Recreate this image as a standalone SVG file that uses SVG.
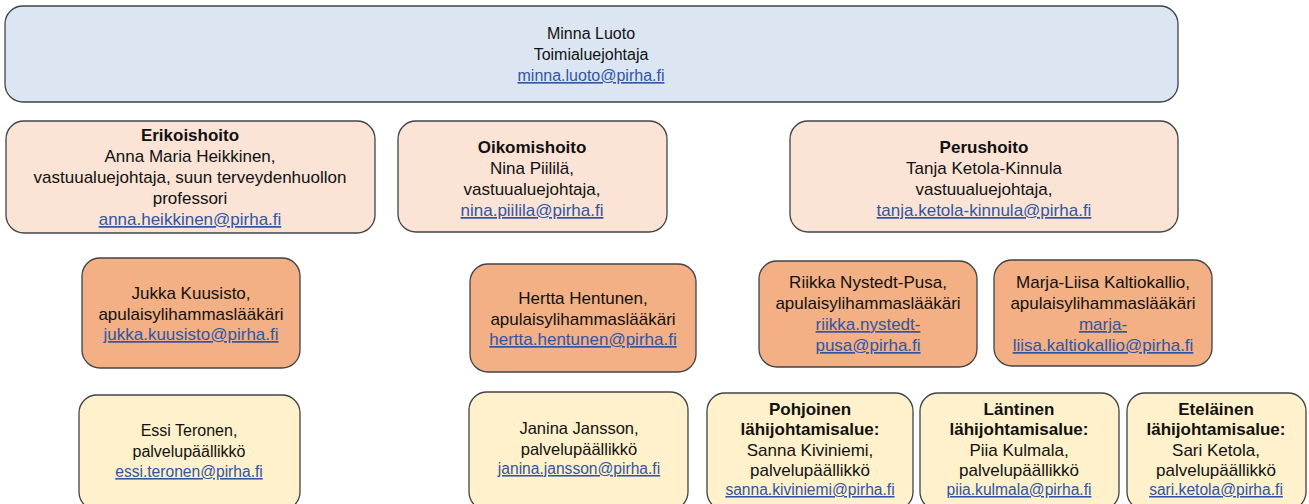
<svg xmlns="http://www.w3.org/2000/svg" width="1309" height="504" viewBox="0 0 1309 504">
<style>
.box{stroke:#3f4349;stroke-width:1.3}
.top{fill:#dce6f3}
.l2{fill:#fbe4d6}
.l3{fill:#f3b084}
.l4{fill:#fff1cb}
text{font-family:"Liberation Sans",Arial,sans-serif;fill:#111;text-anchor:middle}
.f16{font-size:16px}
.f17{font-size:17px}
.f165{font-size:16.5px}
.f15{font-size:15.6px}
.b{font-weight:bold}
.a{fill:#2f55a4;text-decoration:underline}
</style>
<rect width="1309" height="504" fill="#ffffff"/>
<g id="connectors"></g>
<g id="minna">
<rect class="box top" x="5" y="6" width="1173" height="96" rx="18"/>
<text class="f16" x="591" y="39">Minna Luoto</text>
<text class="f16" x="591" y="60">Toimialuejohtaja</text>
<text class="f16 a" x="591" y="81">minna.luoto@pirha.fi</text>
</g>
<g id="erikoishoito">
<rect class="box l2" x="6" y="121" width="369" height="112" rx="18"/>
<text class="f17 b" x="190" y="141">Erikoishoito</text>
<text class="f17" x="190" y="162">Anna Maria Heikkinen,</text>
<text class="f17" x="190" y="183">vastuualuejohtaja, suun terveydenhuollon</text>
<text class="f17" x="190" y="204">professori</text>
<text class="f17 a" x="190" y="225">anna.heikkinen@pirha.fi</text>
</g>
<g id="oikomishoito">
<rect class="box l2" x="398" y="121" width="269" height="111" rx="18"/>
<text class="f17 b" x="532" y="153">Oikomishoito</text>
<text class="f17" x="532" y="174">Nina Piililä,</text>
<text class="f17" x="532" y="195">vastuualuejohtaja,</text>
<text class="f17 a" x="532" y="216">nina.piilila@pirha.fi</text>
</g>
<g id="perushoito">
<rect class="box l2" x="790" y="121" width="388" height="111" rx="18"/>
<text class="f17 b" x="984" y="153">Perushoito</text>
<text class="f17" x="984" y="174">Tanja Ketola-Kinnula</text>
<text class="f17" x="984" y="195">vastuualuejohtaja,</text>
<text class="f17 a" x="984" y="216">tanja.ketola-kinnula@pirha.fi</text>
</g>
<g id="jukka">
<rect class="box l3" x="82" y="258" width="218" height="110" rx="18"/>
<text class="f17" x="191" y="299">Jukka Kuusisto,</text>
<text class="f17" x="191" y="320">apulaisylihammaslääkäri</text>
<text class="f17 a" x="191" y="340">jukka.kuusisto@pirha.fi</text>
</g>
<g id="hertta">
<rect class="box l3" x="470" y="264" width="226" height="108" rx="18"/>
<text class="f17" x="583" y="304">Hertta Hentunen,</text>
<text class="f17" x="583" y="325">apulaisylihammaslääkäri</text>
<text class="f17 a" x="583" y="345">hertta.hentunen@pirha.fi</text>
</g>
<g id="riikka">
<rect class="box l3" x="759" y="261" width="218" height="106" rx="18"/>
<text class="f17" x="868" y="288">Riikka Nystedt-Pusa,</text>
<text class="f17" x="868" y="309">apulaisylihammaslääkäri</text>
<text class="f17 a" x="868" y="330">riikka.nystedt-</text>
<text class="f17 a" x="868" y="351">pusa@pirha.fi</text>
</g>
<g id="marja-liisa">
<rect class="box l3" x="994" y="260" width="218" height="106" rx="18"/>
<text class="f17" x="1103" y="288">Marja-Liisa Kaltiokallio,</text>
<text class="f17" x="1103" y="309">apulaisylihammaslääkäri</text>
<text class="f17 a" x="1103" y="330">marja-</text>
<text class="f17 a" x="1103" y="351">liisa.kaltiokallio@pirha.fi</text>
</g>
<g id="essi">
<rect class="box l4" x="79" y="395" width="221" height="115" rx="18"/>
<text class="f16" x="189" y="436">Essi Teronen,</text>
<text class="f16" x="189" y="457">palvelupäällikkö</text>
<text class="f15 a" x="189" y="477">essi.teronen@pirha.fi</text>
</g>
<g id="janina">
<rect class="box l4" x="469" y="392" width="219" height="118" rx="18"/>
<text class="f165" x="579" y="434">Janina Jansson,</text>
<text class="f165" x="579" y="455">palvelupäällikkö</text>
<text class="f15 a" x="579" y="474">janina.jansson@pirha.fi</text>
</g>
<g id="pohjoinen">
<rect class="box l4" x="707" y="393" width="206" height="117" rx="18"/>
<text class="f17 b" x="810" y="415">Pohjoinen</text>
<text class="f17 b" x="810" y="435">lähijohtamisalue:</text>
<text class="f17" x="810" y="456">Sanna Kiviniemi,</text>
<text class="f17" x="810" y="476">palvelupäällikkö</text>
<text class="f15 a" x="810" y="495">sanna.kiviniemi@pirha.fi</text>
</g>
<g id="lantinen">
<rect class="box l4" x="920" y="393" width="199" height="117" rx="18"/>
<text class="f17 b" x="1019" y="415">Läntinen</text>
<text class="f17 b" x="1019" y="435">lähijohtamisalue:</text>
<text class="f17" x="1019" y="456">Piia Kulmala,</text>
<text class="f17" x="1019" y="476">palvelupäällikkö</text>
<text class="f15 a" x="1019" y="495">piia.kulmala@pirha.fi</text>
</g>
<g id="etelainen">
<rect class="box l4" x="1127" y="393" width="179" height="117" rx="18"/>
<text class="f17 b" x="1216" y="415">Eteläinen</text>
<text class="f17 b" x="1216" y="435">lähijohtamisalue:</text>
<text class="f17" x="1216" y="456">Sari Ketola,</text>
<text class="f17" x="1216" y="476">palvelupäällikkö</text>
<text class="f15 a" x="1216" y="495">sari.ketola@pirha.fi</text>
</g>
</svg>
